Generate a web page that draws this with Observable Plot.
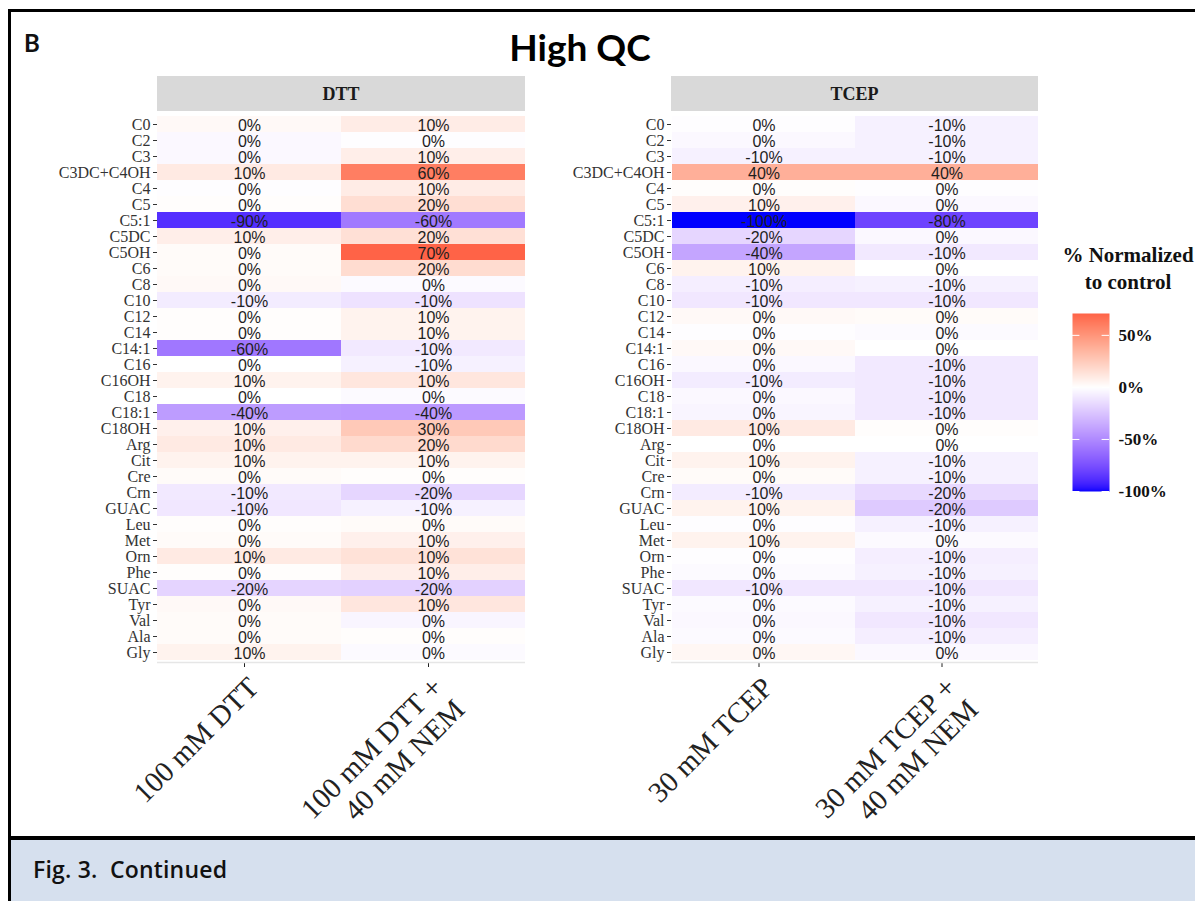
<!DOCTYPE html>
<html>
<head>
<meta charset="utf-8">
<script src="https://cdn.jsdelivr.net/npm/d3@7"></script>
<script src="https://cdn.jsdelivr.net/npm/@observablehq/plot@0.6"></script>
<style>
  body { margin: 0; background: #fff; }
  #page { position: relative; width: 1195px; height: 901px; overflow: hidden; background: #fff; }
  .frame { position: absolute; left: 8px; top: 9px; width: 1200px; height: 831px; box-sizing: border-box;
           border-top: 3px solid #000; border-left: 3px solid #000; border-bottom: 4px solid #000; }
  .caption { position: absolute; left: 8px; top: 840px; width: 1200px; height: 61px; box-sizing: border-box;
             background: #d6e0ee; border-left: 3px solid #000; }
  .caption span { position: absolute; left: 22px; top: 13px; font: 600 23px "Open Sans", Lato, sans-serif;
                  letter-spacing: 0.2px; color: #111; white-space: pre; }
  .panel-letter { position: absolute; left: 24px; top: 28px; font: 700 24px Lato, sans-serif; color: #111; }
  .title { position: absolute; left: 380px; width: 400px; top: 24px; text-align: center; font: 700 37px Lato, sans-serif; color: #000; }
  .legend-title { position: absolute; left: 1045px; width: 166px; top: 242px; text-align: center;
                  font: 700 21px "Liberation Serif", "Times New Roman", serif; line-height: 27px; color: #111; }
  .chart { position: absolute; }
  .chart svg { overflow: visible; }
</style>
</head>
<body>
<div id="page">
  <div class="frame"></div>
  <div class="panel-letter">B</div>
  <div class="title">High QC</div>
  <div class="chart" id="dtt" style="left:0px; top:76px;"></div>
  <div class="chart" id="tcep" style="left:525px; top:76px;"></div>
  <div class="legend-title">% Normalized<br>to control</div>
  <div class="chart" id="legend" style="left:1040px; top:300px;"></div>
  <div class="caption"><span>Fig. 3.  Continued</span></div>
</div>
<script>
// Metabolites, top to bottom
const metabolites = ["C0", "C2", "C3", "C3DC+C4OH", "C4", "C5", "C5:1", "C5DC", "C5OH", "C6", "C8",
  "C10", "C12", "C14", "C14:1", "C16", "C16OH", "C18", "C18:1", "C18OH", "Arg", "Cit", "Cre", "Crn",
  "GUAC", "Leu", "Met", "Orn", "Phe", "SUAC", "Tyr", "Val", "Ala", "Gly"];

// Treatments in each reducing-agent panel
const dttTreatments = ["100 mM DTT", "100 mM DTT +\n40 mM NEM"];
const tcepTreatments = ["30 mM TCEP", "30 mM TCEP +\n40 mM NEM"];

// % change relative to control, one value per metabolite
const dtt100 = [3, -3, -3, 10, -1, 1, -88, 8, 2, 2, 3, -8, 1, 1, -58, 0, 6, 0, -42, 7,
  10, 6, 2, -9, -10, 1, 2, 10, 1, -18, 3, 2, 2, 6];
const dtt100Nem = [9, -1, 8, 60, 9, 16, -57, 15, 71, 17, -2, -12, 6, 6, -9, -6, 12, -2, -43, 26,
  18, 6, 1, -17, -6, 2, 7, 14, 8, -19, 12, -4, 1, -2];
const tcep30 = [-1, -3, -6, 38, 1, 7, -100, -17, -38, 6, -7, -10, 3, -1, 3, -3, -8, -3, -4, 10,
  0, 6, 2, -8, 6, -1, 6, -1, -2, -10, -2, -3, -2, 4];
const tcep30Nem = [-6, -6, -6, 38, -1, -3, -80, -3, -9, 0, -6, -10, 2, -2, 0, -9, -9, -9, -9, 1,
  0, -6, -6, -16, -22, -6, -2, -7, -6, -10, -6, -10, -7, -3];

// Colour-bar tick values
const legendTicks = [50, 0, -50, -100];

const serif = "'Liberation Serif', 'Times New Roman', serif";
const sans = "'Liberation Sans', Arial, sans-serif";

const colorScale = {
  type: "linear",
  domain: [-100, 0, 71],
  range: ["blue", "white", "tomato"],
  interpolate: d3.interpolateLab
};

// Cell labels show the value rounded to the nearest 10 %
const pct = v => `${Math.round(v / 10) * 10 + 0}%`;

function panel(label, treatments, series, marginLeft, panelWidth) {
  const data = treatments.flatMap((t, j) =>
    metabolites.map((m, i) => ({metabolite: m, treatment: t, value: series[j][i]})));
  const marginTop = 37, marginBottom = 173, height = 759;
  const svg = Plot.plot({
    width: marginLeft + panelWidth,
    height,
    marginLeft, marginRight: 0, marginTop, marginBottom,
    style: {background: "transparent", fontFamily: serif, overflow: "visible"},
    x: {domain: treatments, padding: 0, label: null},
    y: {domain: metabolites, padding: 0, label: null},
    color: colorScale,
    marks: [
      Plot.cell(data, {x: "treatment", y: "metabolite", fill: "value", inset: 0}),
      Plot.text(data, {x: "treatment", y: "metabolite", text: d => pct(d.value),
        fontSize: 16, fontFamily: sans, fill: "#1e1e1e", dy: 1}),
      Plot.axisY({tickSize: 4, tickPadding: 3, fontSize: 16, fontFamily: serif, color: "#333"}),
      Plot.axisX({tickSize: 5, tickPadding: 6, tickRotate: -45, textAnchor: "end", lineAnchor: "top",
        lineHeight: 1.08, fontSize: 29, fontFamily: serif, color: "#222", dx: -5})
    ]
  });
  // facet strip above the panel and a light rule under it
  const s = d3.select(svg);
  s.insert("rect", ":first-child")
    .attr("x", marginLeft).attr("y", 0).attr("width", panelWidth).attr("height", 35)
    .attr("fill", "#d9d9d9");
  s.append("text")
    .attr("x", marginLeft + panelWidth / 2).attr("y", 18).attr("dy", "0.35em")
    .attr("text-anchor", "middle").attr("font-weight", "bold").attr("font-size", 18)
    .attr("font-family", serif).attr("fill", "#1a1a1a").text(label);
  s.append("line")
    .attr("x1", marginLeft).attr("x2", marginLeft + panelWidth)
    .attr("y1", height - marginBottom + 0.5).attr("y2", height - marginBottom + 0.5)
    .attr("stroke", "#e6e6e6").attr("stroke-width", 1.5);
  return svg;
}

document.getElementById("dtt").append(panel("DTT", dttTreatments, [dtt100, dtt100Nem], 157, 368));
document.getElementById("tcep").append(panel("TCEP", tcepTreatments, [tcep30, tcep30Nem], 146, 367));

// Vertical colour bar
const legend = Plot.plot({
  width: 155, height: 200,
  marginLeft: 32, marginRight: 86, marginTop: 13, marginBottom: 9,
  style: {background: "transparent", fontFamily: serif, overflow: "visible"},
  x: {domain: [0, 1], axis: null},
  y: {domain: [-100, 71], label: null},
  color: colorScale,
  marks: [
    Plot.raster({x1: 0, x2: 1, y1: -100, y2: 71, width: 1, height: 178, fill: (x, y) => y, imageRendering: "auto"}),
    Plot.ruleY(legendTicks, {x1: 0, x2: 0.2, stroke: "white", strokeWidth: 1}),
    Plot.ruleY(legendTicks, {x1: 0.8, x2: 1, stroke: "white", strokeWidth: 1}),
    Plot.axisY({anchor: "right", ticks: legendTicks, tickSize: 0, tickPadding: 9,
      tickFormat: d => `${d}%`, fontSize: 17, fontWeight: "bold", fontFamily: serif, color: "#111"})
  ]
});
document.getElementById("legend").append(legend);
</script>
</body>
</html>
